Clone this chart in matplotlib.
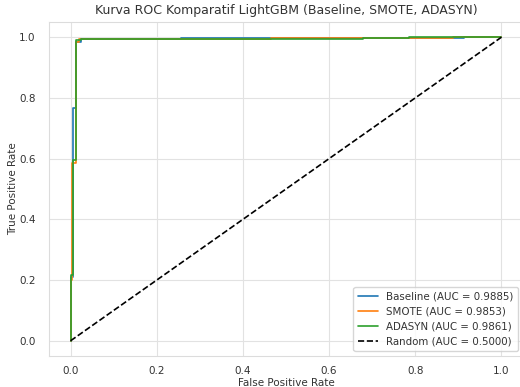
import matplotlib
matplotlib.use("Agg")
import matplotlib.pyplot as plt
import seaborn as sns

sns.set_style("whitegrid", {"grid.color": "#e2e2e2", "axes.edgecolor": "#dcdcdc",
                            "text.color": "#333333", "axes.labelcolor": "#333333",
                            "xtick.color": "#333333", "ytick.color": "#333333"})
plt.rcParams['font.family'] = ['DejaVu Sans']

baseline_fpr = [0.0, 0.0, 0.006, 0.006, 0.013, 0.013, 0.025, 0.025, 0.256, 0.256, 0.914, 0.914, 1.0]
baseline_tpr = [0.0, 0.21, 0.21, 0.767, 0.767, 0.985, 0.985, 0.993, 0.993, 0.997, 0.997, 1.0, 1.0]

smote_fpr = [0.0, 0.0, 0.004, 0.004, 0.012, 0.012, 0.02, 0.02, 0.465, 0.465, 0.888, 0.888, 1.0]
smote_tpr = [0.0, 0.2, 0.2, 0.585, 0.585, 0.985, 0.985, 0.993, 0.993, 0.997, 0.997, 1.0, 1.0]

adasyn_fpr = [0.0, 0.0, 0.006, 0.006, 0.013, 0.013, 0.025, 0.025, 0.678, 0.678, 0.786, 0.786, 1.0]
adasyn_tpr = [0.0, 0.217, 0.217, 0.595, 0.595, 0.99, 0.99, 0.993, 0.993, 0.997, 0.997, 1.0, 1.0]

labels = ["Baseline (AUC = 0.9885)", "SMOTE (AUC = 0.9853)", "ADASYN (AUC = 0.9861)"]
random_label = "Random (AUC = 0.5000)"

fig = plt.figure(figsize=(5.2, 3.87), dpi=100)
ax = fig.add_axes([0.0942, 0.0801, 0.9115, 0.863])

ax.plot(baseline_fpr, baseline_tpr, color="#1f77b4", lw=1.2, label=labels[0])
ax.plot(smote_fpr, smote_tpr, color="#ff7f0e", lw=1.2, label=labels[1])
ax.plot(adasyn_fpr, adasyn_tpr, color="#2ca02c", lw=1.2, label=labels[2])
ax.plot([0, 1], [0, 1], "k--", lw=1.2, label=random_label)

ax.set_xlim(-0.05, 1.05)
ax.set_ylim(-0.05, 1.05)
ax.set_xticks([0.0, 0.2, 0.4, 0.6, 0.8, 1.0])
ax.set_yticks([0.0, 0.2, 0.4, 0.6, 0.8, 1.0])
ax.grid(True, lw=0.8)
ax.tick_params(labelsize=7.5)
ax.tick_params(axis="y", pad=6)
ax.tick_params(axis="x", pad=4)
ax.set_xlabel("False Positive Rate", fontsize=7.5, labelpad=1)
ax.set_ylabel("True Positive Rate", fontsize=7.5, labelpad=1)
ax.set_title("Kurva ROC Komparatif LightGBM (Baseline, SMOTE, ADASYN)", fontsize=9.0, pad=6)
ax.legend(loc="lower right", fontsize=7.4)

fig.savefig("out.png", dpi=100)
